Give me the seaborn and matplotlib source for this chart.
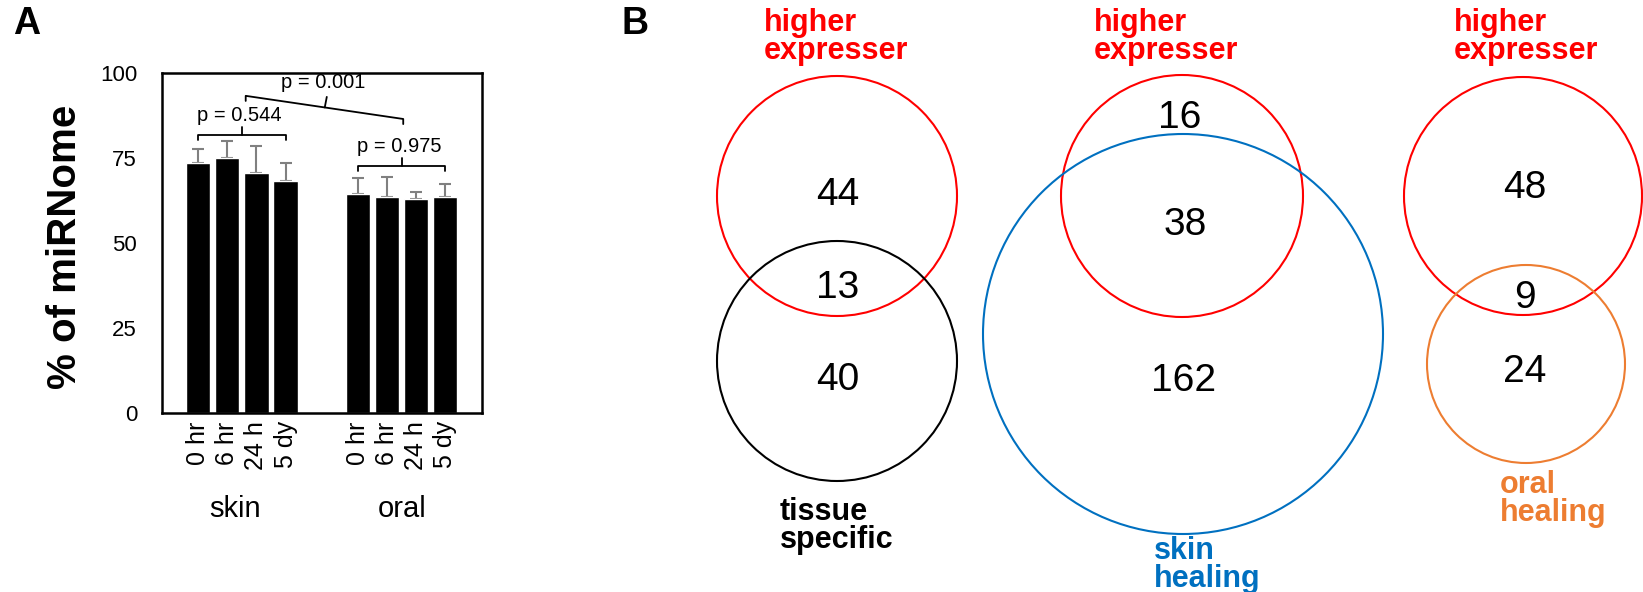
import numpy as np
import pandas as pd
import matplotlib.pyplot as plt
import matplotlib.transforms as mtransforms
from matplotlib.patches import Circle
import seaborn as sns

# ---- panel A: % of miRNome per tissue / time point
tissues = ['skin', 'oral']
timepoints = ['0 hr', '6 hr', '24 h', '5 dy']
skin_mean = [73.4, 74.9, 70.5, 68.2]
skin_err = [4.2, 5.0, 8.0, 5.2]
oral_mean = [64.4, 63.4, 62.8, 63.6]
oral_err = [4.6, 5.9, 2.0, 3.8]
p_labels = ['p = 0.544', 'p = 0.975', 'p = 0.001']

# ---- panel B: venn counts (top only, overlap, bottom only)
venn_counts = [[44, 13, 40], [16, 38, 162], [48, 9, 24]]
venn_top = ['higher\nexpresser', 'higher\nexpresser', 'higher\nexpresser']
venn_bottom = ['tissue\nspecific', 'skin\nhealing', 'oral\nhealing']
venn_colors = ['black', '#0070C0', '#ED7D31']

W, H = 1643, 592
sns.set_theme(style='white')
plt.rcParams['font.family'] = ['Liberation Sans', 'DejaVu Sans']
plt.rcParams.update({'text.color': 'black', 'axes.labelcolor': 'black',
                     'xtick.color': 'black', 'ytick.color': 'black'})

fig = plt.figure(figsize=(W / 100, H / 100), dpi=100)

# ------------------------------------------------------------ panel A
gap = 5.5  # offset of the oral group
rows = []
for g, (t, m, e) in enumerate(zip(tissues, [skin_mean, oral_mean], [skin_err, oral_err])):
    for i, tp in enumerate(timepoints):
        rows.append({'tissue': t, 'time': tp, 'pos': i + g * gap, 'mean': m[i], 'err': e[i]})
df = pd.DataFrame(rows)

ax = fig.add_axes([162 / W, 1 - 413 / H, 319.7 / W, 340.3 / H])
sns.barplot(data=df, x='pos', y='mean', native_scale=True, color='black',
            saturation=1, width=0.83, errorbar=None, ax=ax, zorder=2)
ax.errorbar(df['pos'], df['mean'], yerr=[np.zeros(len(df)), df['err']], fmt='none',
            ecolor='#808080', elinewidth=1.5, capsize=4, capthick=1.5, zorder=1)

ax.set_xlim(-1.25, 9.75)
ax.set_ylim(0, 100)
ax.set_yticks([0, 25, 50, 75, 100])
ax.set_xticks(df['pos'])
ax.set_xticklabels(df['time'], rotation=90, fontsize=18)
ax.tick_params(axis='y', length=0, pad=18, labelsize=16)
ax.tick_params(axis='x', length=0, pad=6)
ax.set_xlabel('')
ax.set_ylabel('% of miRNome', fontsize=29, fontweight='bold')
ax.yaxis.set_label_coords(-0.245, 0.487)
for s in ax.spines.values():
    s.set_visible(True)
    s.set_color('black')
    s.set_linewidth(1.8)

trans = mtransforms.blended_transform_factory(ax.transData, ax.transAxes)
for g, t in enumerate(tissues):
    ax.text([1.25, 7.0][g], -0.305, t, transform=trans, ha='center', va='baseline', fontsize=21)

# significance brackets
lw = 1.3
for x0, x1, y, lab in [(0, 3, 81.7, p_labels[0]), (gap, 3 + gap, 72.6, p_labels[1])]:
    xm = (x0 + x1) / 2
    ax.plot([x0, x0, x1, x1], [y - 1.4, y, y, y - 1.4], color='black', lw=lw, clip_on=False)
    ax.plot([xm, xm], [y, y + 2.4], color='black', lw=lw, clip_on=False)
    ax.text(xm - 0.1, y + 4.0, lab, ha='center', va='baseline', fontsize=14.5)

xa, ya, xb, yb = 1.63, 93.2, 7.05, 86.4
ax.plot([xa, xa, xb, xb], [ya - 1.5, ya, yb, yb - 1.5], color='black', lw=lw, clip_on=False)
xm = 4.35
ym = ya + (yb - ya) * (xm - xa) / (xb - xa)
ax.plot([xm, xm + 0.07], [ym, ym + 3.1], color='black', lw=lw, clip_on=False)
ax.text(4.3, 95.4, p_labels[2], ha='center', va='baseline', fontsize=14.5)

fig.text(27 / W, 1 - 24 / H, 'A', ha='center', va='center', fontsize=27, fontweight='bold')

# ------------------------------------------------------------ panel B
axb = fig.add_axes([600 / W, 0, (W - 600) / W, 1])
axb.set_xlim(600, W)
axb.set_ylim(H, 0)
axb.axis('off')

# circle geometry in pixels: (top circle), (bottom circle)
venn_geom = [
    [(837, 196, 120), (837, 361, 120)],
    [(1182, 196, 121), (1183, 334, 200)],
    [(1523, 196, 119), (1526, 364, 99)],
]
num_pos = [
    [(837.5, 191.5), (838, 285), (838, 376.5)],
    [(1180, 114), (1185.5, 221.5), (1183.5, 377.5)],
    [(1525, 185), (1525, 294.5), (1525, 368)],
]
top_pos = [(764, 8.5), (1094, 8.5), (1453.5, 8.5)]
bottom_pos = [(780, 497), (1154, 536), (1500, 470)]

for k in range(3):
    (cx1, cy1, r1), (cx2, cy2, r2) = venn_geom[k]
    axb.add_patch(Circle((cx1, cy1), r1, fill=False, ec='#FF0000', lw=1.5, clip_on=False))
    axb.add_patch(Circle((cx2, cy2), r2, fill=False, ec=venn_colors[k], lw=1.5, clip_on=False))
    for n, (px, py) in zip(venn_counts[k], num_pos[k]):
        axb.text(px, py + 13.5, str(n), ha='center', va='baseline', fontsize=28)
    axb.text(*top_pos[k], venn_top[k], ha='left', va='top', fontsize=22,
             fontweight='bold', color='#FF0000', linespacing=0.9)
    axb.text(*bottom_pos[k], venn_bottom[k], ha='left', va='top', fontsize=22,
             fontweight='bold', color=venn_colors[k], linespacing=0.9)

fig.text(635 / W, 1 - 23.5 / H, 'B', ha='center', va='center', fontsize=27, fontweight='bold')

fig.savefig('out.png', dpi=100)
